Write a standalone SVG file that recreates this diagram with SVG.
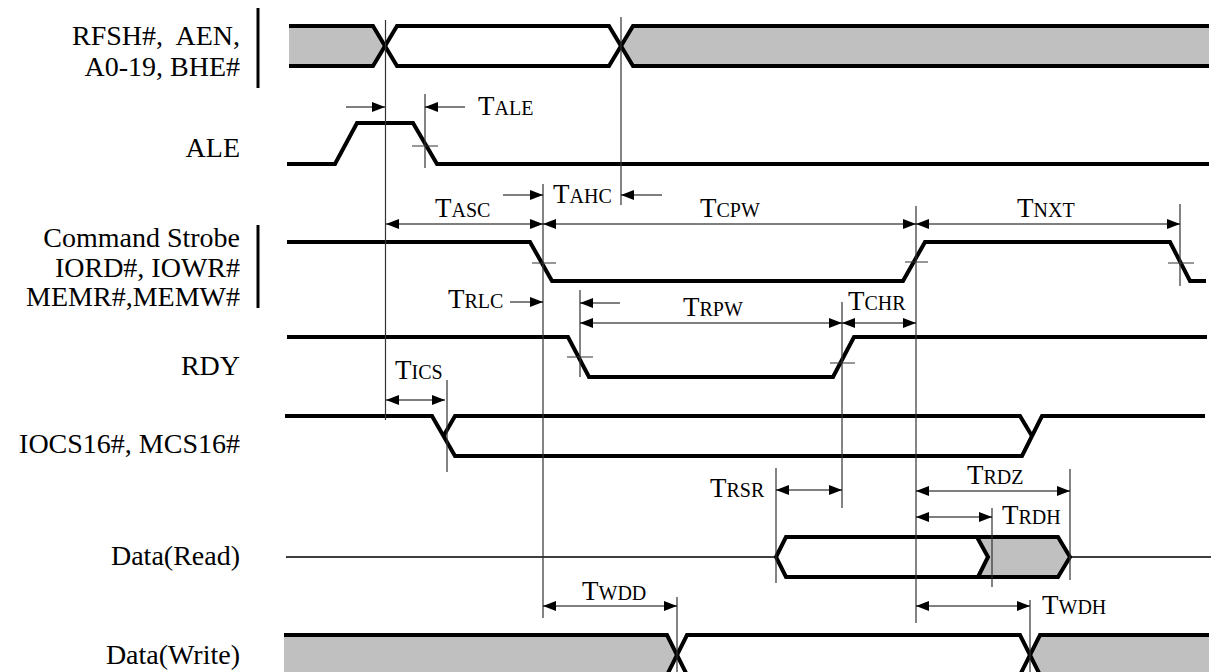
<svg xmlns="http://www.w3.org/2000/svg" width="1211" height="672" viewBox="0 0 1211 672">
<style>
.lbl{font-family:"Liberation Serif","Times New Roman",serif;font-size:28px;fill:#000;text-anchor:end;white-space:pre}
.tl{font-family:"Liberation Serif","Times New Roman",serif;font-size:27px;fill:#000}
.sc{font-size:20px}
.sig{fill:none;stroke:#000;stroke-width:4;stroke-linejoin:miter}
.gray{fill:#c0c0c0;stroke:none}
.thin{fill:none;stroke:#333;stroke-width:1.2}
.dim{fill:none;stroke:#000;stroke-width:1.2}
.bar{stroke:#000;stroke-width:3}
</style>
<defs>
<marker id="ah" markerUnits="userSpaceOnUse" markerWidth="14" markerHeight="11" refX="13" refY="5" orient="auto-start-reverse" viewBox="0 0 14 11">
<path d="M0,0 L13,5 L0,10 Z" fill="#000"/>
</marker>
</defs>
<rect width="1211" height="672" fill="#fff"/>

<g id="node-rfsh">
<text class="lbl" x="240" y="45" xml:space="preserve">RFSH#,  AEN,</text>
<text class="lbl" x="240" y="76">A0-19, BHE#</text>
<line class="bar" x1="258" y1="8" x2="258" y2="88"/>
<polygon class="gray" points="289,26 373,26 385,46 373,66 289,66"/>
<polygon class="gray" points="621,46 633,26 1209,26 1209,66 633,66"/>
<path class="sig" d="M289,26 H373 L397,66 H609 L633,26 H1209"/>
<path class="sig" d="M289,66 H373 L397,26 H609 L633,66 H1209"/>
</g>

<g id="node-ale">
<text class="lbl" x="240" y="157">ALE</text>
<path class="sig" d="M287,164 H335 L357,123 H413 L437,164 H1209"/>
</g>

<g id="node-cmd">
<text class="lbl" x="240" y="247">Command Strobe</text>
<text class="lbl" x="240" y="277">IORD#, IOWR#</text>
<text class="lbl" x="240" y="306">MEMR#,MEMW#</text>
<line class="bar" x1="258" y1="225" x2="258" y2="308"/>
<path class="sig" d="M287,242 H530 L552,281 H903 L925,242 H1170 L1190,281 H1206"/>
</g>

<g id="node-rdy">
<text class="lbl" x="240" y="375">RDY</text>
<path class="sig" d="M287,337 H568 L589,377 H833 L854,337 H1207"/>
</g>

<g id="node-iocs">
<text class="lbl" x="240" y="453">IOCS16#, MCS16#</text>
<path class="sig" d="M285,416 H432 L455,456 H1022 L1042,416 H1205"/>
<path class="sig" d="M443.5,436 L455,416 H1020 L1032,436"/>
</g>

<g id="node-dread">
<text class="lbl" x="240" y="565">Data(Read)</text>
<path class="thin" style="stroke:#000;stroke-width:1.6" d="M286,557 H776 M1070,557 H1211"/>
<polygon class="gray" points="977,537 1058,537 1070,557 1058,577 978,577 988,557"/>
<path class="sig" d="M776,557 L786,537 H1058 L1070,557 L1058,577 H786 Z"/>
<path class="sig" d="M977,537 L988,557 L978,577"/>
</g>

<g id="node-dwrite">
<text class="lbl" x="240" y="664">Data(Write)</text>
<polygon class="gray" points="284,635 667,635 677,655 667,675 284,675"/>
<polygon class="gray" points="1030,655 1040,635 1209,635 1209,675 1040,675"/>
<path class="sig" d="M284,635 H667 L687,675 H1020 L1040,635 H1209"/>
<path class="sig" d="M284,675 H667 L687,635 H1020 L1040,675 H1209"/>
</g>

<g id="connectors">
<g id="guides">
<path class="thin" d="M385.5,20 V420 M621,17 V205 M425,94 V168 M543,184 V618 M916,206 V623 M1180,204 V286 M580,290 V377 M842,302 V508 M447,380 V472 M776,468 V583 M992,508 V587 M1070,469 V580 M677,597 V672 M1030,600 V672"/>
<path class="thin" d="M412,146 H438 M532,263 H556 M905,262 H928 M1168,263 H1194 M567,357 H593 M830,363 H855"/>
</g>
<g id="arrows">
<line class="dim" x1="346" y1="107" x2="385" y2="107" marker-end="url(#ah)"/>
<line class="dim" x1="465" y1="107" x2="425" y2="107" marker-end="url(#ah)"/>
<line class="dim" x1="386" y1="224" x2="543" y2="224" marker-start="url(#ah)" marker-end="url(#ah)"/>
<line class="dim" x1="543" y1="224" x2="916" y2="224" marker-start="url(#ah)" marker-end="url(#ah)"/>
<line class="dim" x1="916" y1="224" x2="1180" y2="224" marker-start="url(#ah)" marker-end="url(#ah)"/>
<line class="dim" x1="503" y1="195" x2="543" y2="195" marker-end="url(#ah)"/>
<line class="dim" x1="662" y1="195" x2="621" y2="195" marker-end="url(#ah)"/>
<line class="dim" x1="510" y1="302" x2="543" y2="302" marker-end="url(#ah)"/>
<line class="dim" x1="620" y1="303" x2="580" y2="303" marker-end="url(#ah)"/>
<line class="dim" x1="580" y1="323" x2="842" y2="323" marker-start="url(#ah)" marker-end="url(#ah)"/>
<line class="dim" x1="842" y1="323" x2="916" y2="323" marker-start="url(#ah)" marker-end="url(#ah)"/>
<line class="dim" x1="386" y1="400" x2="445" y2="400" marker-start="url(#ah)" marker-end="url(#ah)"/>
<line class="dim" x1="776" y1="490" x2="842" y2="490" marker-start="url(#ah)" marker-end="url(#ah)"/>
<line class="dim" x1="916" y1="491" x2="1070" y2="491" marker-start="url(#ah)" marker-end="url(#ah)"/>
<line class="dim" x1="916" y1="517" x2="992" y2="517" marker-start="url(#ah)" marker-end="url(#ah)"/>
<line class="dim" x1="543" y1="606" x2="677" y2="606" marker-start="url(#ah)" marker-end="url(#ah)"/>
<line class="dim" x1="916" y1="606" x2="1030" y2="606" marker-start="url(#ah)" marker-end="url(#ah)"/>
</g>
<g id="timing-labels">
<text class="tl" x="478" y="115">T<tspan class="sc">ALE</tspan></text>
<text class="tl" x="435" y="217">T<tspan class="sc">ASC</tspan></text>
<text class="tl" x="553" y="203">T<tspan class="sc">AHC</tspan></text>
<text class="tl" x="700" y="217">T<tspan class="sc">CPW</tspan></text>
<text class="tl" x="1017" y="217">T<tspan class="sc">NXT</tspan></text>
<text class="tl" x="448" y="308">T<tspan class="sc">RLC</tspan></text>
<text class="tl" x="683" y="316">T<tspan class="sc">RPW</tspan></text>
<text class="tl" x="848" y="310">T<tspan class="sc">CHR</tspan></text>
<text class="tl" x="395" y="379">T<tspan class="sc">ICS</tspan></text>
<text class="tl" x="710" y="497">T<tspan class="sc">RSR</tspan></text>
<text class="tl" x="967" y="484">T<tspan class="sc">RDZ</tspan></text>
<text class="tl" x="1002" y="524">T<tspan class="sc">RDH</tspan></text>
<text class="tl" x="582" y="600">T<tspan class="sc">WDD</tspan></text>
<text class="tl" x="1042" y="614">T<tspan class="sc">WDH</tspan></text>
</g>
</g>
</svg>
